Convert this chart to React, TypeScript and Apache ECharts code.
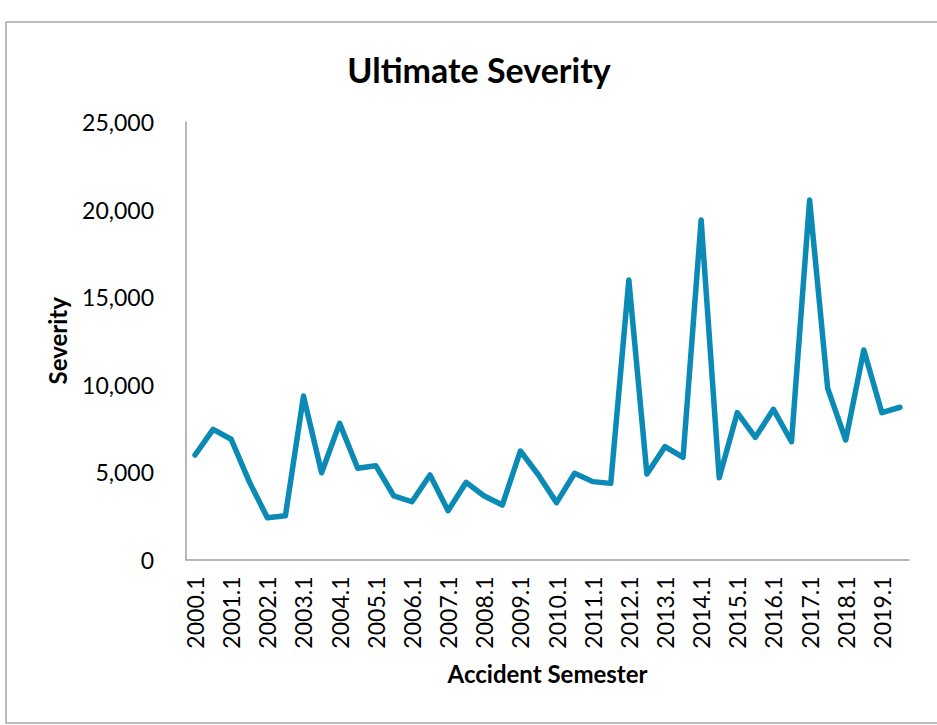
import React, { useEffect, useRef } from "react";
import * as echarts from "echarts";

const years: number[] = Array.from({ length: 20 }, (_, i) => 2000 + i);
const categories: string[] = years.flatMap((y) => [`${y}.1`, `${y}.2`]);

const severity: number[] = [
  5970, 7440, 6870, 4450, 2390, 2500, 9340, 4960, 7780, 5210,
  5360, 3630, 3300, 4830, 2790, 4410, 3630, 3110, 6200, 4830,
  3250, 4930, 4450, 4350, 15970, 4890, 6450, 5840, 19400, 4670,
  8390, 6980, 8580, 6730, 20540, 9780, 6830, 11970, 8390, 8700,
];

const titleText = "Ultimate Severity";
const xName = "Accident Semester";
const yName = "Severity";

export default function App() {
  const ref = useRef<HTMLDivElement>(null);

  useEffect(() => {
    if (!ref.current) return;
    const chart = echarts.init(ref.current, undefined, { renderer: "svg" });
    const font = "Lato, 'Open Sans', sans-serif";
    chart.setOption({
      animation: false,
      backgroundColor: "#ffffff",
      title: {
        text: titleText,
        left: 474,
        top: 47,
        textAlign: "center",
        textStyle: { fontFamily: font, fontWeight: "bold", fontSize: 34, color: "#000" },
      },
      graphic: [
        {
          type: "rect",
          shape: { x: 6, y: 22, width: 1000, height: 701 },
          style: { fill: "none", stroke: "#a6a6a6", lineWidth: 1.5 },
          silent: true,
        },
      ],
      grid: { left: 186, right: 28, top: 122, bottom: 165.5, containLabel: false },
      xAxis: {
        type: "category",
        data: categories,
        boundaryGap: true,
        name: xName,
        nameLocation: "middle",
        nameGap: 102,
        nameTextStyle: { fontFamily: font, fontWeight: "bold", fontSize: 24, color: "#000" },
        axisLine: { show: true, lineStyle: { color: "#a0a0a0", width: 1.5 } },
        axisTick: { show: false },
        axisLabel: {
          interval: 1,
          rotate: 90,
          margin: 17,
          fontFamily: font,
          fontSize: 23,
          color: "#000",
        },
        splitLine: { show: false },
      },
      yAxis: {
        type: "value",
        min: 0,
        max: 25000,
        interval: 5000,
        name: yName,
        nameLocation: "middle",
        nameGap: 117,
        nameTextStyle: { fontFamily: font, fontWeight: "bold", fontSize: 24, color: "#000" },
        axisLine: { show: true, lineStyle: { color: "#a0a0a0", width: 1.5 } },
        axisTick: { show: false },
        axisLabel: {
          margin: 32,
          fontFamily: font,
          fontSize: 23,
          color: "#000",
          formatter: (v: number) => v.toLocaleString("en-US"),
        },
        splitLine: { show: false },
      },
      series: [
        {
          type: "line",
          data: severity,
          symbol: "none",
          lineStyle: { color: "#0a8ab5", width: 5.5, cap: "round", join: "round" },
          itemStyle: { color: "#0a8ab5" },
        },
      ],
    });
    return () => chart.dispose();
  }, []);

  return (
    <div
      ref={ref}
      style={{ position: "absolute", left: 0, top: 0, width: 937, height: 725 }}
    />
  );
}
